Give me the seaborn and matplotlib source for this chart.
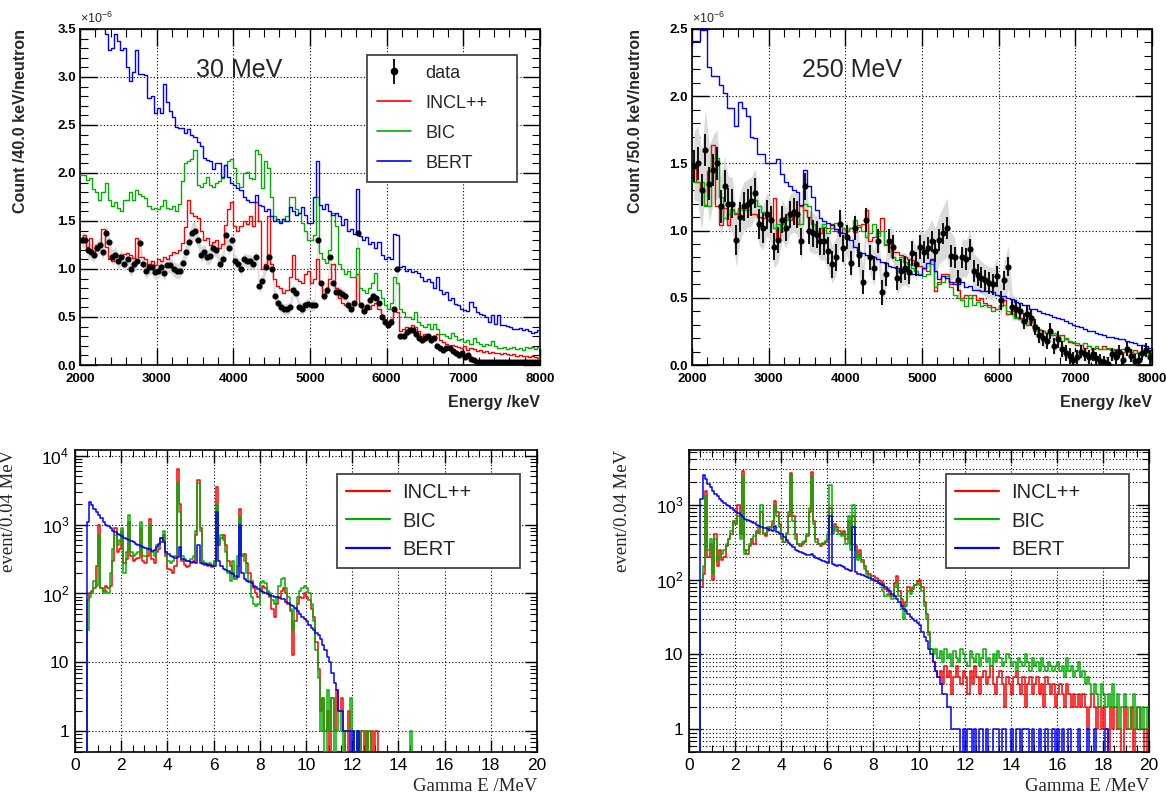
import numpy as np
import pandas as pd
import matplotlib
matplotlib.use('Agg')
import matplotlib.pyplot as plt
from matplotlib.lines import Line2D
from matplotlib.ticker import MultipleLocator, FormatStrFormatter, FixedLocator, LogLocator, NullFormatter
import seaborn as sns

# ---------------- top left: 30 MeV, 40 keV bins, 2000-8000 keV (x1e-6) ----------------
e30_start, e30_step = 2000, 40
incl_30 = [1.28, 1.35, 1.23, 1.32, 1.18, 1.25, 1.25, 1.42, 1.23, 1.10, 1.08, 1.15, 1.15, 1.13, 1.16, 1.17, 1.15, 1.11, 1.32, 1.12, 1.12, 1.10, 1.05, 1.08, 1.04,
           1.10, 1.08, 1.12, 1.10, 1.15, 1.18, 1.17, 1.20, 1.27, 1.44, 1.72, 1.58, 1.55, 1.53, 1.40, 1.30, 1.32, 1.25, 1.28, 1.30, 1.22, 1.26, 1.46, 1.62, 1.70,
           1.45, 1.40, 1.45, 1.50, 1.47, 1.55, 1.45, 1.70, 1.50, 1.00, 1.05, 1.55, 1.05, 0.90, 0.82, 0.80, 0.75, 0.78, 0.92, 1.15, 0.90, 0.88, 0.85, 0.95, 0.98,
           0.85, 0.90, 1.10, 0.85, 0.72, 0.75, 0.90, 1.05, 0.80, 0.70, 0.65, 0.62, 0.60, 0.58, 0.62, 0.95, 0.62, 0.55, 0.60, 0.58, 0.62, 0.65, 0.58, 0.52, 0.48,
           0.42, 0.48, 0.58, 0.55, 0.35, 0.38, 0.40, 0.38, 0.42, 0.40, 0.35, 0.30, 0.32, 0.28, 0.30, 0.28, 0.32, 0.26, 0.24, 0.22, 0.20, 0.21, 0.20, 0.19, 0.18,
           0.20, 0.16, 0.18, 0.17, 0.15, 0.16, 0.14, 0.15, 0.13, 0.14, 0.12, 0.13, 0.11, 0.12, 0.11, 0.10, 0.11, 0.09, 0.10, 0.09, 0.09, 0.08, 0.09, 0.08, 0.07]
bic_30 = [1.98, 1.98, 1.93, 1.95, 1.83, 1.80, 1.72, 1.80, 1.90, 1.72, 1.66, 1.70, 1.64, 1.60, 1.72, 1.72, 1.80, 1.72, 1.82, 1.78, 1.76, 1.74, 1.66, 1.63, 1.64,
          1.62, 1.66, 1.72, 1.64, 1.62, 1.66, 1.60, 1.68, 1.92, 2.10, 2.12, 2.15, 2.24, 1.87, 1.85, 1.90, 1.96, 1.88, 1.85, 1.90, 1.92, 1.95, 2.08, 2.12, 2.15,
          2.05, 1.90, 1.85, 2.00, 2.01, 1.95, 1.94, 2.24, 2.20, 1.84, 2.13, 2.05, 1.75, 1.55, 1.50, 1.49, 1.52, 1.55, 1.75, 1.75, 1.62, 1.58, 1.48, 1.40, 1.30,
          1.30, 1.35, 1.75, 1.17, 1.10, 1.06, 1.20, 1.58, 1.45, 1.05, 1.00, 0.95, 0.98, 0.92, 0.92, 1.22, 0.80, 0.78, 0.75, 0.80, 0.85, 0.96, 0.78, 0.70, 0.62,
          0.58, 0.65, 0.92, 0.85, 0.58, 0.55, 0.50, 0.50, 0.48, 0.55, 0.45, 0.42, 0.40, 0.43, 0.38, 0.43, 0.38, 0.32, 0.32, 0.30, 0.28, 0.33, 0.30, 0.26, 0.27,
          0.24, 0.26, 0.22, 0.28, 0.24, 0.22, 0.20, 0.22, 0.21, 0.25, 0.20, 0.18, 0.18, 0.19, 0.17, 0.18, 0.19, 0.17, 0.18, 0.16, 0.19, 0.18, 0.19, 0.17, 0.19]
bert_30 = [4.30, 4.20, 4.00, 3.90, 3.80, 3.70, 3.60, 3.55, 3.45, 3.28, 3.30, 3.45, 3.38, 3.28, 3.30, 3.10, 2.96, 3.05, 3.28, 3.03, 3.03, 3.02, 2.78, 2.80, 2.62,
           2.68, 2.62, 2.93, 2.74, 2.65, 2.58, 2.48, 2.47, 2.47, 2.42, 2.46, 2.40, 2.37, 2.32, 2.28, 2.16, 2.14, 2.12, 2.04, 2.10, 2.10, 1.96, 2.08, 1.96, 1.90,
           1.87, 1.84, 1.82, 1.75, 1.72, 1.70, 1.70, 1.77, 1.67, 1.66, 1.60, 1.62, 1.55, 1.50, 1.52, 1.48, 1.52, 1.50, 1.65, 1.60, 1.56, 1.58, 1.65, 1.56, 1.48,
           1.48, 1.75, 2.12, 1.67, 1.62, 1.68, 1.60, 1.56, 1.58, 1.55, 1.46, 1.52, 1.40, 1.42, 1.36, 1.83, 1.34, 1.30, 1.33, 1.26, 1.28, 1.22, 1.28, 1.15, 1.10,
           1.12, 1.10, 1.36, 1.35, 1.02, 1.03, 0.98, 1.00, 0.97, 0.98, 0.96, 0.92, 0.88, 0.90, 0.86, 0.80, 0.92, 0.78, 0.74, 0.76, 0.68, 0.70, 0.64, 0.62, 0.58,
           0.57, 0.56, 0.66, 0.60, 0.55, 0.53, 0.52, 0.50, 0.45, 0.52, 0.43, 0.52, 0.42, 0.42, 0.41, 0.40, 0.38, 0.37, 0.39, 0.36, 0.38, 0.35, 0.33, 0.34, 0.36]
data_30 = [1.30, 1.30, 1.20, 1.18, 1.15, 1.22, 1.25, 1.18, 1.37, 1.28, 1.12, 1.15, 1.08, 1.12, 1.05, 1.10, 1.00, 1.05, 1.08, 1.27, 1.05, 0.98, 1.02, 1.02, 0.97,
           0.98, 1.02, 0.96, 1.04, 1.04, 1.00, 0.98, 0.98, 1.06, 1.18, 1.28, 1.38, 1.40, 1.30, 1.15, 1.18, 1.12, 1.14, 1.22, 1.20, 1.05, 1.10, 1.35, 1.22, 1.30,
           1.08, 1.05, 1.00, 1.10, 1.08, 1.08, 1.05, 1.12, 0.82, 0.88, 1.02, 1.12, 1.00, 0.72, 0.65, 0.60, 0.58, 0.58, 0.60, 0.78, 0.75, 0.60, 0.58, 0.62, 0.64,
           0.62, 0.63, 1.30, 0.85, 0.72, 0.78, 1.12, 0.85, 0.76, 0.76, 0.74, 0.72, 0.62, 0.58, 0.65, 1.38, 0.62, 0.56, 0.60, 0.68, 0.72, 0.70, 0.65, 0.50, 0.45,
           0.42, 0.45, 0.58, 1.00, 0.30, 0.30, 0.34, 0.36, 0.36, 0.32, 0.28, 0.26, 0.28, 0.30, 0.26, 0.28, 0.20, 0.18, 0.16, 0.18, 0.18, 0.15, 0.12, 0.10, 0.12,
           0.08, 0.10, 0.06, 0.05, 0.03, 0.03, 0.03, 0.03, 0.03, 0.03, 0.03, 0.03, 0.03, 0.03, 0.03, 0.03, 0.03, 0.03, 0.03, 0.03, 0.03, 0.03, 0.03, 0.03, 0.03]
err_30 = [0.08, 0.08, 0.08, 0.08, 0.08, 0.08, 0.08, 0.08, 0.09, 0.08, 0.08, 0.08, 0.08, 0.08, 0.08, 0.08, 0.08, 0.08, 0.08, 0.09, 0.08, 0.08, 0.08, 0.08, 0.08,
          0.08, 0.08, 0.08, 0.08, 0.08, 0.08, 0.08, 0.08, 0.08, 0.08, 0.09, 0.10, 0.10, 0.09, 0.08, 0.08, 0.08, 0.08, 0.08, 0.08, 0.08, 0.08, 0.09, 0.08, 0.08,
          0.07, 0.07, 0.07, 0.07, 0.07, 0.07, 0.07, 0.07, 0.07, 0.07, 0.07, 0.07, 0.07, 0.07, 0.06, 0.06, 0.06, 0.06, 0.06, 0.06, 0.06, 0.06, 0.06, 0.06, 0.06,
          0.06, 0.06, 0.08, 0.07, 0.06, 0.06, 0.07, 0.06, 0.06, 0.06, 0.06, 0.06, 0.05, 0.05, 0.05, 0.08, 0.05, 0.05, 0.05, 0.05, 0.05, 0.05, 0.05, 0.05, 0.05,
          0.04, 0.04, 0.05, 0.06, 0.04, 0.04, 0.04, 0.04, 0.04, 0.04, 0.04, 0.04, 0.04, 0.04, 0.04, 0.04, 0.03, 0.03, 0.03, 0.03, 0.03, 0.03, 0.03, 0.03, 0.03,
          0.03, 0.03, 0.03, 0.03, 0.02, 0.02, 0.02, 0.02, 0.02, 0.02, 0.02, 0.02, 0.02, 0.02, 0.02, 0.02, 0.02, 0.02, 0.02, 0.02, 0.02, 0.02, 0.02, 0.02, 0.02]

# ---------------- top right: 250 MeV, 50 keV bins, 2000-8000 keV (x1e-6) ----------------
e250_start, e250_step = 2000, 50
incl_250 = [1.48, 1.36, 1.31, 1.19, 1.44, 1.64, 1.18, 1.04, 1.17, 1.04, 1.15, 1.12, 1.17, 1.17, 1.19, 1.12, 1.12, 1.10, 1.09, 1.10,
            1.08, 1.24, 0.93, 1.05, 1.10, 1.08, 1.15, 1.05, 1.18, 1.15, 1.10, 1.05, 1.00, 0.98, 1.03, 1.02, 1.05, 1.00, 0.98, 1.02,
            1.00, 1.02, 0.99, 1.03, 1.05, 1.15, 0.92, 0.95, 0.98, 1.09, 0.89, 0.90, 0.84, 0.84, 0.82, 0.80, 0.79, 0.78, 0.76, 0.74,
            0.72, 0.70, 0.78, 0.55, 0.62, 0.68, 0.68, 0.60, 0.62, 0.56, 0.50, 0.52, 0.50, 0.52, 0.48, 0.50, 0.46, 0.45, 0.43, 0.42,
            0.45, 0.48, 0.38, 0.40, 0.36, 0.35, 0.33, 0.30, 0.32, 0.28, 0.26, 0.25, 0.24, 0.25, 0.22, 0.20, 0.22, 0.19, 0.17, 0.16,
            0.15, 0.15, 0.13, 0.14, 0.12, 0.13, 0.12, 0.14, 0.12, 0.11, 0.12, 0.11, 0.10, 0.12, 0.10, 0.11, 0.09, 0.10, 0.10, 0.10]
bic_250 = [1.36, 1.36, 1.36, 1.18, 1.18, 1.54, 1.54, 1.25, 1.09, 1.12, 1.16, 1.13, 1.15, 1.15, 1.15, 1.23, 1.23, 1.18, 1.14, 1.12,
           1.08, 1.02, 1.05, 1.00, 1.08, 1.10, 1.12, 1.10, 1.05, 1.20, 1.18, 1.05, 1.00, 1.02, 1.05, 0.98, 1.02, 1.06, 1.04, 1.02,
           1.00, 1.02, 1.08, 1.04, 1.00, 0.95, 0.98, 1.05, 0.96, 1.00, 0.90, 0.85, 0.80, 0.78, 0.80, 0.77, 0.75, 0.72, 0.70, 0.68,
           0.66, 0.68, 0.75, 0.58, 0.60, 0.62, 0.66, 0.58, 0.52, 0.50, 0.48, 0.44, 0.52, 0.45, 0.47, 0.44, 0.45, 0.43, 0.40, 0.42,
           0.44, 0.45, 0.40, 0.38, 0.35, 0.34, 0.32, 0.30, 0.33, 0.25, 0.27, 0.25, 0.24, 0.22, 0.24, 0.22, 0.18, 0.20, 0.18, 0.17,
           0.16, 0.15, 0.16, 0.14, 0.13, 0.14, 0.12, 0.12, 0.13, 0.12, 0.10, 0.11, 0.12, 0.10, 0.11, 0.09, 0.10, 0.09, 0.10, 0.07]
bert_250 = [2.41, 2.41, 2.49, 2.49, 2.22, 2.15, 2.15, 2.08, 2.02, 1.91, 1.91, 1.78, 1.96, 1.91, 1.85, 1.70, 1.69, 1.57, 1.57, 1.50,
            1.50, 1.50, 1.53, 1.42, 1.36, 1.33, 1.30, 1.29, 1.19, 1.45, 1.33, 1.25, 1.15, 1.09, 1.07, 1.06, 1.04, 1.01, 0.99, 0.98,
            0.95, 0.93, 0.88, 0.84, 0.83, 0.82, 0.80, 0.80, 0.79, 0.77, 0.76, 0.74, 0.73, 0.72, 0.71, 0.70, 0.70, 0.68, 0.68, 0.67,
            0.72, 0.76, 0.79, 0.70, 0.64, 0.66, 0.65, 0.62, 0.60, 0.60, 0.62, 0.58, 0.59, 0.56, 0.56, 0.55, 0.55, 0.55, 0.54, 0.52,
            0.51, 0.51, 0.50, 0.49, 0.47, 0.46, 0.45, 0.45, 0.42, 0.42, 0.40, 0.39, 0.38, 0.37, 0.36, 0.35, 0.34, 0.33, 0.31, 0.30,
            0.29, 0.28, 0.27, 0.25, 0.25, 0.24, 0.23, 0.22, 0.21, 0.21, 0.20, 0.19, 0.19, 0.18, 0.17, 0.16, 0.15, 0.15, 0.14, 0.13]
data_250 = [1.48, 1.50, 1.30, 1.60, 1.35, 1.45, 1.50, 1.18, 1.33, 1.20, 1.20, 0.93, 1.10, 1.18, 1.20, 1.22, 1.28, 1.05, 1.02, 1.12,
            1.08, 0.88, 0.93, 1.08, 1.02, 1.12, 1.14, 1.12, 0.92, 1.33, 1.00, 0.98, 0.97, 0.92, 0.92, 0.85, 0.75, 0.80, 1.05, 0.87,
            0.95, 0.76, 1.02, 0.82, 0.62, 1.08, 0.80, 0.72, 0.92, 0.54, 0.68, 0.92, 0.88, 0.65, 0.70, 0.72, 0.69, 0.83, 0.75, 0.88,
            0.84, 0.87, 0.92, 0.85, 0.93, 0.98, 1.02, 0.81, 0.80, 0.63, 0.80, 0.79, 0.86, 0.70, 0.67, 0.65, 0.63, 0.61, 0.60, 0.66,
            0.48, 0.63, 0.73, 0.43, 0.42, 0.40, 0.33, 0.38, 0.35, 0.28, 0.22, 0.20, 0.18, 0.25, 0.14, 0.19, 0.12, 0.09, 0.07, 0.04,
            0.06, 0.10, 0.08, 0.06, 0.08, 0.05, 0.03, 0.02, 0.01, 0.08, 0.06, 0.10, 0.04, 0.12, 0.07, 0.03, 0.04, 0.09, 0.11, 0.06]
stat_250 = [0.12, 0.12, 0.12, 0.12, 0.12, 0.12, 0.12, 0.12, 0.12, 0.12, 0.11, 0.11, 0.11, 0.11, 0.11, 0.11, 0.11, 0.11, 0.11, 0.11,
            0.10, 0.10, 0.10, 0.10, 0.10, 0.10, 0.10, 0.10, 0.10, 0.10, 0.10, 0.10, 0.10, 0.10, 0.10, 0.10, 0.10, 0.10, 0.10, 0.10,
            0.09, 0.09, 0.09, 0.09, 0.09, 0.09, 0.09, 0.09, 0.09, 0.09, 0.09, 0.09, 0.09, 0.09, 0.09, 0.09, 0.09, 0.09, 0.09, 0.09,
            0.08, 0.08, 0.08, 0.08, 0.08, 0.08, 0.08, 0.08, 0.08, 0.08, 0.08, 0.08, 0.08, 0.08, 0.08, 0.08, 0.08, 0.08, 0.08, 0.08,
            0.07, 0.07, 0.07, 0.06, 0.06, 0.06, 0.06, 0.06, 0.06, 0.06, 0.06, 0.06, 0.06, 0.06, 0.06, 0.06, 0.06, 0.06, 0.06, 0.06,
            0.05, 0.05, 0.05, 0.05, 0.05, 0.05, 0.05, 0.05, 0.05, 0.05, 0.05, 0.05, 0.05, 0.05, 0.05, 0.05, 0.05, 0.05, 0.05, 0.05]
sys_250 = [0.25, 0.28, 0.30, 0.30, 0.28, 0.26, 0.25, 0.22, 0.22, 0.20, 0.20, 0.20, 0.18, 0.18, 0.18, 0.18, 0.18, 0.16, 0.16, 0.16,
           0.16, 0.16, 0.16, 0.15, 0.15, 0.15, 0.15, 0.15, 0.15, 0.18, 0.15, 0.15, 0.14, 0.14, 0.14, 0.14, 0.14, 0.14, 0.14, 0.14,
           0.13, 0.13, 0.13, 0.13, 0.13, 0.13, 0.13, 0.13, 0.13, 0.13, 0.12, 0.12, 0.12, 0.12, 0.12, 0.12, 0.12, 0.12, 0.12, 0.13,
           0.14, 0.15, 0.16, 0.17, 0.18, 0.20, 0.22, 0.18, 0.15, 0.14, 0.14, 0.14, 0.14, 0.13, 0.13, 0.12, 0.12, 0.12, 0.12, 0.14,
           0.12, 0.15, 0.16, 0.10, 0.08, 0.08, 0.07, 0.07, 0.07, 0.06, 0.06, 0.06, 0.06, 0.06, 0.06, 0.05, 0.05, 0.05, 0.05, 0.05,
           0.05, 0.05, 0.05, 0.05, 0.05, 0.04, 0.04, 0.04, 0.04, 0.04, 0.04, 0.04, 0.04, 0.04, 0.04, 0.04, 0.04, 0.04, 0.04, 0.04]

# ---------------- bottom: gamma spectra, 0.1 MeV bins, 0-20 MeV (event/0.04 MeV) ----------------
g_max, g_bins = 20, 200
g_incl_30 = [0, 0, 0, 0, 0, 80, 100, 110, 120, 250, 1000, 120, 110, 130, 120, 130, 300, 900, 400, 450,
             800, 280, 320, 1100, 350, 300, 320, 330, 900, 300, 280, 350, 1200, 320, 280, 400, 450, 550, 700, 350,
             230, 220, 200, 250, 6500, 2000, 300, 260, 240, 250, 280, 300, 700, 4500, 900, 280, 260, 250, 260, 240,
             300, 3500, 500, 650, 700, 500, 300, 250, 200, 160, 250, 1700, 350, 380, 280, 200, 150, 120, 100, 90,
             110, 130, 120, 105, 90, 60, 45, 70, 90, 110, 120, 100, 70, 55, 13, 40, 70, 90, 85, 100,
             90, 80, 60, 45, 20, 8, 2, 3, 1, 2, 0, 3, 1, 4, 2, 3, 1, 0, 2, 1,
             1, 0, 1, 0, 1, 0, 1, 0, 1, 0, 1, 0, 0, 0, 0, 0, 0, 0, 0, 0,
             0, 0, 0, 0, 0, 0, 0, 0, 0, 0, 0, 0, 0, 0, 0, 0, 0, 0, 0, 0,
             0, 0, 0, 0, 0, 0, 0, 0, 0, 0, 0, 0, 0, 0, 0, 0, 0, 0, 0, 0,
             0, 0, 0, 0, 0, 0, 0, 0, 0, 0, 0, 0, 0, 0, 0, 0, 0, 0, 0, 0]
g_bic_30 = [0, 0, 0, 0, 0, 30, 90, 100, 150, 130, 700, 120, 100, 110, 100, 200, 450, 700, 500, 600,
            900, 200, 400, 1400, 400, 350, 380, 400, 1100, 350, 350, 450, 1000, 400, 350, 500, 500, 650, 800, 400,
            300, 280, 300, 350, 4000, 1500, 350, 320, 300, 300, 320, 350, 800, 4000, 800, 300, 280, 270, 280, 260,
            300, 2000, 500, 700, 600, 400, 200, 150, 300, 170, 350, 1300, 380, 300, 200, 150, 90, 70, 65, 70,
            140, 150, 140, 110, 100, 80, 70, 90, 130, 160, 170, 120, 90, 60, 30, 60, 90, 110, 120, 130,
            120, 100, 70, 40, 15, 6, 1, 3, 0, 4, 1, 3, 0, 1, 2, 1, 0, 1, 1, 3,
            1, 0, 1, 0, 1, 1, 0, 1, 0, 0, 0, 0, 0, 0, 0, 0, 0, 0, 0, 0,
            0, 0, 0, 0, 0, 1, 0, 0, 0, 0, 0, 0, 0, 0, 0, 0, 0, 0, 0, 0,
            0, 0, 0, 0, 0, 0, 0, 0, 0, 0, 0, 0, 0, 0, 0, 0, 0, 0, 0, 0,
            0, 0, 0, 0, 0, 0, 0, 0, 0, 0, 0, 0, 0, 0, 0, 0, 0, 0, 0, 0]
g_bert_30 = [0, 0, 0, 0, 0, 1100, 2100, 1900, 1700, 1550, 1400, 1250, 1100, 1000, 950, 880, 820, 780, 740, 700,
             680, 650, 610, 590, 570, 550, 530, 510, 490, 480, 460, 450, 440, 420, 430, 470, 520, 650, 550, 400,
             370, 350, 340, 330, 340, 480, 320, 310, 300, 300, 290, 285, 280, 500, 275, 270, 265, 260, 255, 250,
             250, 1500, 300, 250, 230, 220, 210, 200, 190, 180, 175, 1000, 200, 160, 150, 145, 140, 130, 125, 115,
             108, 105, 100, 98, 95, 92, 90, 88, 86, 84, 82, 75, 72, 68, 65, 62, 55, 50, 45, 42,
             40, 35, 32, 30, 27, 25, 22, 18, 15, 12, 10, 7, 5, 4, 2, 2, 1, 1, 1, 0,
             1, 0, 1, 0, 0, 0, 0, 0, 0, 0, 0, 0, 0, 0, 0, 0, 0, 0, 0, 0,
             0, 0, 0, 0, 0, 0, 0, 0, 0, 0, 0, 0, 0, 0, 0, 0, 0, 0, 0, 0,
             0, 0, 0, 0, 0, 0, 0, 0, 0, 0, 0, 0, 0, 0, 0, 0, 0, 0, 0, 0,
             0, 0, 0, 0, 0, 0, 0, 0, 0, 0, 0, 0, 0, 0, 0, 0, 0, 0, 0, 0]
g_incl_250 = [0, 0, 0, 0, 0, 80, 120, 1500, 200, 300, 100, 400, 150, 250, 180, 200, 280, 350, 400, 600,
              550, 1000, 400, 2800, 250, 220, 280, 350, 300, 450, 420, 800, 400, 380, 450, 500, 550, 1100, 800, 550,
              350, 320, 400, 700, 2600, 700, 400, 300, 280, 300, 320, 380, 800, 2700, 600, 350, 300, 280, 300, 320,
              350, 900, 450, 550, 500, 450, 400, 450, 350, 600, 300, 700, 280, 200, 250, 180, 150, 130, 120, 110,
              110, 105, 100, 95, 90, 75, 70, 65, 60, 90, 110, 70, 55, 45, 50, 80, 70, 75, 85, 95,
              100, 80, 50, 35, 20, 12, 8, 6, 5, 6, 4, 7, 5, 6, 3, 5, 7, 5, 4, 6,
              5, 3, 6, 4, 7, 5, 3, 5, 6, 4, 5, 7, 4, 3, 5, 6, 4, 2, 5, 4,
              3, 5, 6, 4, 3, 5, 2, 4, 5, 3, 4, 5, 3, 4, 2, 5, 4, 3, 4, 2,
              3, 4, 3, 2, 4, 3, 2, 3, 2, 3, 2, 3, 2, 1, 2, 3, 2, 1, 2, 1,
              2, 1, 0, 2, 1, 2, 1, 1, 0, 2, 1, 1, 2, 0, 1, 2, 1, 1, 0, 1]
g_bic_250 = [0, 0, 0, 0, 0, 100, 150, 1300, 250, 350, 120, 350, 180, 200, 220, 250, 300, 350, 450, 600,
             550, 700, 350, 2400, 220, 250, 300, 350, 380, 420, 500, 1000, 400, 420, 500, 480, 600, 1000, 700, 500,
             380, 320, 420, 800, 2500, 600, 350, 300, 300, 320, 330, 400, 900, 2400, 550, 320, 300, 300, 310, 330,
             400, 1800, 400, 500, 450, 400, 380, 420, 300, 700, 250, 1000, 250, 180, 220, 170, 140, 120, 110, 100,
             100, 95, 90, 85, 70, 60, 65, 60, 55, 80, 90, 60, 40, 30, 45, 70, 65, 80, 85, 90,
             85, 70, 45, 30, 18, 12, 10, 12, 9, 11, 8, 12, 9, 10, 7, 11, 9, 8, 12, 10,
             8, 7, 11, 9, 8, 10, 7, 9, 12, 8, 9, 7, 10, 8, 11, 9, 7, 8, 10, 9,
             7, 8, 6, 9, 8, 7, 10, 8, 6, 9, 7, 8, 6, 9, 7, 6, 8, 7, 6, 7,
             8, 6, 7, 5, 9, 6, 7, 5, 6, 8, 5, 6, 4, 5, 4, 3, 4, 3, 2, 4,
             3, 2, 3, 2, 4, 2, 3, 1, 2, 3, 2, 1, 2, 3, 1, 2, 1, 2, 1, 2]
g_bert_250 = [0, 0, 0, 0, 0, 1200, 2500, 2200, 1900, 1700, 1500, 1400, 1300, 1200, 1100, 1050, 1000, 950, 900, 850,
              800, 760, 720, 680, 650, 620, 600, 580, 560, 540, 520, 500, 490, 480, 470, 460, 450, 520, 430, 410,
              400, 370, 340, 310, 290, 270, 250, 240, 230, 225, 220, 215, 210, 220, 205, 195, 190, 180, 175, 170,
              166, 700, 160, 155, 150, 155, 150, 145, 140, 135, 130, 500, 125, 120, 118, 115, 110, 108, 105, 102,
              100, 95, 90, 88, 85, 80, 75, 70, 65, 60, 55, 50, 45, 40, 38, 35, 32, 30, 28, 26,
              25, 20, 17, 15, 12, 10, 8, 6, 5, 4, 3, 3, 2, 2, 1, 1, 1, 1, 0, 1,
              0, 1, 1, 0, 1, 0, 1, 1, 0, 1, 0, 0, 1, 1, 1, 0, 1, 1, 0, 0,
              1, 0, 1, 1, 0, 1, 1, 1, 0, 1, 0, 0, 1, 0, 0, 1, 0, 0, 1, 0,
              1, 0, 1, 0, 0, 1, 0, 0, 0, 1, 0, 0, 0, 1, 0, 0, 1, 0, 0, 0,
              0, 1, 0, 0, 0, 0, 0, 0, 0, 0, 0, 0, 0, 0, 0, 0, 0, 0, 0, 0]

models = ['INCL++', 'BIC', 'BERT']
colors = {'INCL++': '#ff0000', 'BIC': '#00b000', 'BERT': '#0000ff'}

sns.set_theme(style='ticks')
plt.rcParams['font.family'] = ['Liberation Sans', 'DejaVu Sans']
plt.rcParams['mathtext.fontset'] = 'custom'
plt.rcParams['mathtext.rm'] = 'Liberation Sans'
plt.rcParams['axes.linewidth'] = 1.2
plt.rcParams['axes.edgecolor'] = 'black'

SERIF = ['Liberation Serif', 'DejaVu Serif']


def step_hist(ax, lo, hi, vals, color, lw, floor=None):
    v = np.asarray(vals, dtype=float)
    if floor is not None:
        v = np.clip(v, floor, None)
    n = len(v)
    edges = np.linspace(lo, hi, n + 1)
    df = pd.DataFrame({'x': (edges[:-1] + edges[1:]) / 2, 'w': v})
    sns.histplot(data=df, x='x', weights='w', bins=n, binrange=(lo, hi), element='step',
                 fill=False, color=color, linewidth=lw, ax=ax, zorder=3)


def frame(ax):
    ax.tick_params(which='both', direction='in', top=True, right=True, colors='black')
    ax.grid(True, which='major', ls=(0, (1, 2)), color='black', lw=0.8)
    for s in ax.spines.values():
        s.set_linewidth(1.2)
        s.set_color('black')


def top_panel(ax, step, start, incl, bic, bert, data, band, bars, ymax, title, ylabel, ylx):
    lo, hi = start, start + step * len(incl)
    edges = np.linspace(lo, hi, len(incl) + 1)
    centers = (edges[:-1] + edges[1:]) / 2
    d = np.asarray(data)
    b = np.asarray(band)
    ax.fill_between(centers, d - b, d + b, color='#dadada', lw=0, zorder=2)
    for name, vals in zip(models, [incl, bic, bert]):
        step_hist(ax, lo, hi, vals, colors[name], 1.0)
    if bars is None:
        ax.plot(centers, d, 'o', color='black', ms=3.4, zorder=5)
    else:
        ax.errorbar(centers, d, yerr=bars, fmt='o', color='black', ms=3.4,
                    elinewidth=1.3, capsize=0, zorder=5)
    ax.set_xlim(2000, 8000)
    ax.set_ylim(0, ymax)
    ax.xaxis.set_major_locator(MultipleLocator(1000))
    ax.xaxis.set_minor_locator(MultipleLocator(200))
    ax.yaxis.set_major_locator(MultipleLocator(0.5))
    ax.yaxis.set_minor_locator(MultipleLocator(0.1))
    ax.yaxis.set_major_formatter(FormatStrFormatter('%.1f'))
    ax.xaxis.set_major_formatter(FormatStrFormatter('%d'))
    frame(ax)
    ax.tick_params(which='major', length=12, width=1.0, labelsize=9.5, pad=3)
    ax.tick_params(axis='x', which='major', pad=6)
    ax.tick_params(which='minor', length=6, width=0.8)
    for lab in ax.get_xticklabels() + ax.get_yticklabels():
        lab.set_fontweight('bold')
    ax.set_xlabel('Energy /keV', fontsize=11.5, fontweight='bold', loc='right')
    ax.xaxis.set_label_coords(1.0, -0.09)
    ax.set_ylabel(ylabel, fontsize=11.5, fontweight='bold', loc='top')
    ax.yaxis.set_label_coords(ylx, 1.0)
    ax.text(0.0, 1.008, r'$\times$10$^{-6}$', transform=ax.transAxes, fontsize=9,
            ha='left', va='bottom')
    ax.text(0.347, 0.878, title, transform=ax.transAxes, fontsize=18, ha='center', va='center')


def bottom_panel(ax, incl, bic, bert, ymax, minor_grid, ylx):
    for name, vals in zip(models, [incl, bic, bert]):
        step_hist(ax, 0, g_max, vals, colors[name], 1.1, floor=0.5)
    ax.set_yscale('log')
    ax.set_xlim(0, g_max)
    ax.set_ylim(0.5, ymax)
    ax.xaxis.set_major_locator(MultipleLocator(2))
    ax.xaxis.set_minor_locator(MultipleLocator(0.5))
    ax.xaxis.set_major_formatter(FormatStrFormatter('%d'))
    majors = [v for v in [1, 10, 100, 1000, 10000] if v <= ymax]
    labels = ['1', '10', '$10^2$', '$10^3$', '$10^4$'][:len(majors)]
    ax.yaxis.set_major_locator(FixedLocator(majors))
    ax.set_yticklabels(labels)
    ax.yaxis.set_minor_locator(LogLocator(base=10, subs=np.arange(2, 10)))
    ax.yaxis.set_minor_formatter(NullFormatter())
    frame(ax)
    if minor_grid:
        ax.grid(True, which='minor', axis='y', ls=(0, (1, 2)), color='black', lw=0.8)
    ax.tick_params(which='major', length=9, width=1.0, labelsize=12.5, pad=4)
    ax.tick_params(which='minor', length=5, width=0.8)
    ax.set_xlabel('Gamma E /MeV', fontsize=13.5, family=SERIF, loc='right')
    ax.xaxis.set_label_coords(1.0, -0.085)
    ax.set_ylabel('event/0.04 MeV', fontsize=13.5, family=SERIF, loc='top')
    ax.yaxis.set_label_coords(ylx, 1.0)


fig = plt.figure(figsize=(11.66, 7.94), dpi=100)
ax_tl = fig.add_axes([0.0686, 0.5403, 0.3945, 0.4232])
ax_tr = fig.add_axes([0.5935, 0.5403, 0.3945, 0.4232])
ax_bl = fig.add_axes([0.0643, 0.0529, 0.3962, 0.3800])
ax_br = fig.add_axes([0.5909, 0.0529, 0.3945, 0.3800])

top_panel(ax_tl, e30_step, e30_start, incl_30, bic_30, bert_30, data_30, err_30, None,
          3.5, '30 MeV', 'Count /40.0 keV/neutron', -0.113)
top_panel(ax_tr, e250_step, e250_start, incl_250, bic_250, bert_250, data_250, sys_250, stat_250,
          2.5, '250 MeV', 'Count /50.0 keV/neutron', -0.107)

bottom_panel(ax_bl, g_incl_30, g_bic_30, g_bert_30, 1.2e4, False, -0.126)
bottom_panel(ax_br, g_incl_250, g_bic_250, g_bert_250, 5300, True, -0.127)

# legends
data_handle = (Line2D([], [], marker='|', ms=18, mew=1.3, color='black', ls='none'),
               Line2D([], [], marker='o', ms=4.5, color='black', ls='none'))
line_handles = [Line2D([], [], color=colors[m], lw=1.2) for m in models]
leg = ax_tl.legend([data_handle] + line_handles, ['data'] + models,
                   loc='upper left', bbox_to_anchor=(0.624, 0.545, 0.326, 0.378), mode='expand',
                   borderaxespad=0, fontsize=13, labelspacing=0.72, handlelength=1.9,
                   handletextpad=0.8, borderpad=0.55, fancybox=False, framealpha=1,
                   edgecolor='#444444')
leg.get_frame().set_linewidth(1.3)

for ax, x0 in [(ax_bl, 0.567), (ax_br, 0.559)]:
    hs = [Line2D([], [], color=colors[m], lw=1.6) for m in models]
    lg = ax.legend(hs, models, loc='upper left', bbox_to_anchor=(x0, 0.61, 0.397, 0.31),
                   mode='expand', borderaxespad=0, fontsize=14.5, labelspacing=0.45,
                   handlelength=2.2, handletextpad=0.6, borderpad=0.45, fancybox=False,
                   framealpha=1, edgecolor='#444444')
    lg.get_frame().set_linewidth(1.3)

fig.savefig('out.png', dpi=100)
